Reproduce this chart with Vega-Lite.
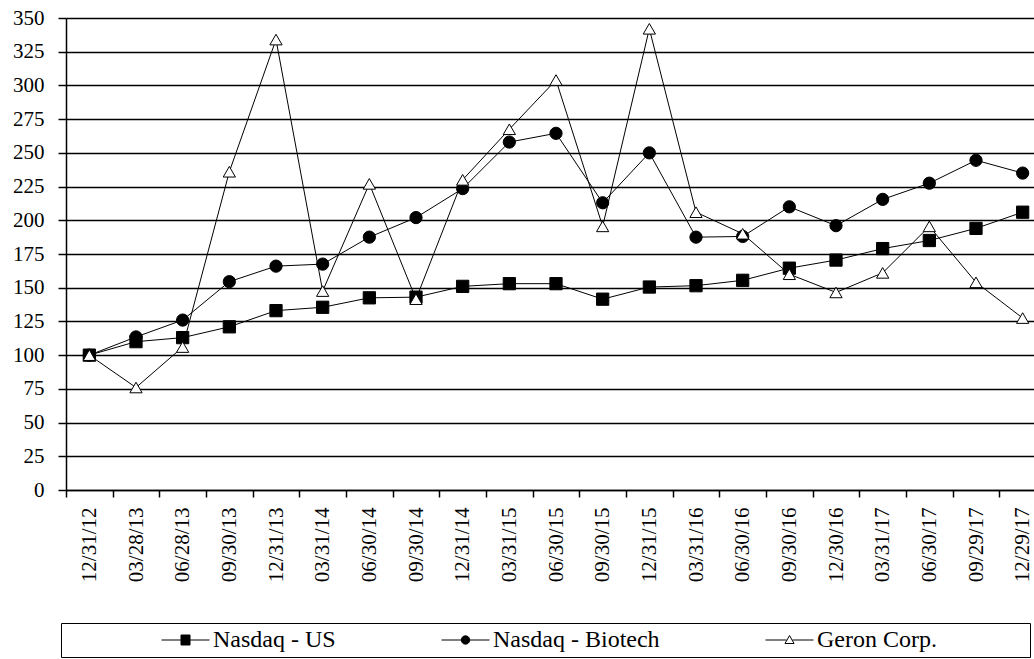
{
  "$schema": "https://vega.github.io/schema/vega-lite/v6.json",
  "width": 968,
  "height": 472,
  "autosize": {"type": "none"},
  "padding": {"left": 66, "top": 18, "right": 0, "bottom": 169},
  "background": "white",
  "config": {
    "view": {"stroke": null},
    "font": "Liberation Serif",
    "axis": {"labelFont": "Liberation Serif", "labelColor": "black", "domainColor": "black", "tickColor": "black", "title": null},
    "legend": {"labelFont": "Liberation Serif"}
  },
  "data": {
    "values": [
      {"date": "12/31/12", "series": "Nasdaq - US", "value": 100},
      {"date": "03/28/13", "series": "Nasdaq - US", "value": 110},
      {"date": "06/28/13", "series": "Nasdaq - US", "value": 113},
      {"date": "09/30/13", "series": "Nasdaq - US", "value": 121},
      {"date": "12/31/13", "series": "Nasdaq - US", "value": 133},
      {"date": "03/31/14", "series": "Nasdaq - US", "value": 135.5},
      {"date": "06/30/14", "series": "Nasdaq - US", "value": 142.5},
      {"date": "09/30/14", "series": "Nasdaq - US", "value": 143},
      {"date": "12/31/14", "series": "Nasdaq - US", "value": 151},
      {"date": "03/31/15", "series": "Nasdaq - US", "value": 153},
      {"date": "06/30/15", "series": "Nasdaq - US", "value": 153},
      {"date": "09/30/15", "series": "Nasdaq - US", "value": 141.5},
      {"date": "12/31/15", "series": "Nasdaq - US", "value": 150.5},
      {"date": "03/31/16", "series": "Nasdaq - US", "value": 151.5},
      {"date": "06/30/16", "series": "Nasdaq - US", "value": 155.5},
      {"date": "09/30/16", "series": "Nasdaq - US", "value": 164.5},
      {"date": "12/30/16", "series": "Nasdaq - US", "value": 170.5},
      {"date": "03/31/17", "series": "Nasdaq - US", "value": 179},
      {"date": "06/30/17", "series": "Nasdaq - US", "value": 185},
      {"date": "09/29/17", "series": "Nasdaq - US", "value": 194},
      {"date": "12/29/17", "series": "Nasdaq - US", "value": 206},
      {"date": "12/31/12", "series": "Nasdaq - Biotech", "value": 100},
      {"date": "03/28/13", "series": "Nasdaq - Biotech", "value": 113.5},
      {"date": "06/28/13", "series": "Nasdaq - Biotech", "value": 126},
      {"date": "09/30/13", "series": "Nasdaq - Biotech", "value": 154.5},
      {"date": "12/31/13", "series": "Nasdaq - Biotech", "value": 166},
      {"date": "03/31/14", "series": "Nasdaq - Biotech", "value": 167.5},
      {"date": "06/30/14", "series": "Nasdaq - Biotech", "value": 187.5},
      {"date": "09/30/14", "series": "Nasdaq - Biotech", "value": 202},
      {"date": "12/31/14", "series": "Nasdaq - Biotech", "value": 223.5},
      {"date": "03/31/15", "series": "Nasdaq - Biotech", "value": 258},
      {"date": "06/30/15", "series": "Nasdaq - Biotech", "value": 264.5},
      {"date": "09/30/15", "series": "Nasdaq - Biotech", "value": 213},
      {"date": "12/31/15", "series": "Nasdaq - Biotech", "value": 250},
      {"date": "03/31/16", "series": "Nasdaq - Biotech", "value": 187.5},
      {"date": "06/30/16", "series": "Nasdaq - Biotech", "value": 188},
      {"date": "09/30/16", "series": "Nasdaq - Biotech", "value": 210},
      {"date": "12/30/16", "series": "Nasdaq - Biotech", "value": 196},
      {"date": "03/31/17", "series": "Nasdaq - Biotech", "value": 215.5},
      {"date": "06/30/17", "series": "Nasdaq - Biotech", "value": 227.5},
      {"date": "09/29/17", "series": "Nasdaq - Biotech", "value": 244.5},
      {"date": "12/29/17", "series": "Nasdaq - Biotech", "value": 235},
      {"date": "12/31/12", "series": "Geron Corp.", "value": 100},
      {"date": "03/28/13", "series": "Geron Corp.", "value": 76},
      {"date": "06/28/13", "series": "Geron Corp.", "value": 106},
      {"date": "09/30/13", "series": "Geron Corp.", "value": 236},
      {"date": "12/31/13", "series": "Geron Corp.", "value": 334},
      {"date": "03/31/14", "series": "Geron Corp.", "value": 147.5},
      {"date": "06/30/14", "series": "Geron Corp.", "value": 227},
      {"date": "09/30/14", "series": "Geron Corp.", "value": 141.5},
      {"date": "12/31/14", "series": "Geron Corp.", "value": 230},
      {"date": "03/31/15", "series": "Geron Corp.", "value": 267.5},
      {"date": "06/30/15", "series": "Geron Corp.", "value": 304},
      {"date": "09/30/15", "series": "Geron Corp.", "value": 195.5},
      {"date": "12/31/15", "series": "Geron Corp.", "value": 342},
      {"date": "03/31/16", "series": "Geron Corp.", "value": 206},
      {"date": "06/30/16", "series": "Geron Corp.", "value": 190},
      {"date": "09/30/16", "series": "Geron Corp.", "value": 160},
      {"date": "12/30/16", "series": "Geron Corp.", "value": 146.5},
      {"date": "03/31/17", "series": "Geron Corp.", "value": 161},
      {"date": "06/30/17", "series": "Geron Corp.", "value": 195.5},
      {"date": "09/29/17", "series": "Geron Corp.", "value": 154},
      {"date": "12/29/17", "series": "Geron Corp.", "value": 127.5}
    ]
  },
  "encoding": {
    "x": {
      "field": "date",
      "type": "ordinal",
      "sort": null,
      "scale": {"type": "band", "paddingInner": 0, "paddingOuter": 0, "range": [0, 980]},
      "axis": {
        "labelAngle": -90,
        "labelFontSize": 21,
        "labelPadding": 10,
        "tickSize": 7,
        "tickWidth": 1.5,
        "domainWidth": 1.5,
        "tickBand": "extent",
        "grid": false
      }
    },
    "y": {
      "field": "value",
      "type": "quantitative",
      "scale": {"domain": [0, 350], "nice": false, "zero": true},
      "axis": {
        "values": [0, 25, 50, 75, 100, 125, 150, 175, 200, 225, 250, 275, 300, 325, 350],
        "labelFontSize": 21,
        "labelPadding": 14,
        "tickSize": 8,
        "tickWidth": 1.5,
        "domainWidth": 1.5,
        "grid": true,
        "gridColor": "black",
        "gridWidth": 1.5,
        "gridOpacity": 1
      }
    }
  },
  "layer": [
    {
      "mark": {"type": "line", "color": "black", "strokeWidth": 1},
      "encoding": {"detail": {"field": "series"}}
    },
    {
      "mark": {"type": "point", "filled": true, "stroke": "black", "strokeWidth": 1, "opacity": 1, "size": 150},
      "encoding": {
        "shape": {
          "field": "series",
          "type": "nominal",
          "scale": {"domain": ["Nasdaq - US", "Nasdaq - Biotech", "Geron Corp."], "range": ["square", "circle", "triangle-up"]},
          "legend": null
        },
        "fill": {
          "field": "series",
          "type": "nominal",
          "scale": {"domain": ["Nasdaq - US", "Nasdaq - Biotech", "Geron Corp."], "range": ["black", "black", "white"]},
          "legend": null
        }
      }
    },
    {
      "mark": {"type": "point", "filled": false, "strokeWidth": 1, "size": 0},
      "encoding": {
        "shape": {
          "field": "series",
          "type": "nominal",
          "scale": {
            "domain": ["Nasdaq - US", "Nasdaq - Biotech", "Geron Corp."],
            "range": [
              "M-2.4,0H2.4M-0.45,-0.5H0.45V0.5H-0.45Z",
              "M-2.4,0H2.4M0.42,0A0.42,0.42,0,1,1,-0.42,0A0.42,0.42,0,1,1,0.42,0Z",
              "M-2.4,0H-0.3M0.3,0H2.4M0,-0.45L0.45,0.35H-0.45Z"
            ]
          },
          "legend": {
            "orient": "none",
            "legendX": -5,
            "legendY": 605,
            "direction": "horizontal",
            "padding": 5,
            "strokeColor": "black",
            "fillColor": "white",
            "symbolSize": 400,
            "symbolOpacity": 1,
            "symbolStrokeWidth": 1,
            "symbolOffset": 107.5,
            "labelOffset": 15.5,
            "columnPadding": 10,
            "labelFontSize": 24,
            "labelColor": "black",
            "labelLimit": 400,
            "title": "\u00a0",
            "titleOrient": "right",
            "titlePadding": 88,
            "titleFontSize": 8
          }
        },
        "fill": {
          "field": "series",
          "type": "nominal",
          "scale": {"domain": ["Nasdaq - US", "Nasdaq - Biotech", "Geron Corp."], "range": ["black", "black", "white"]},
          "legend": {
            "orient": "none",
            "legendX": -5,
            "legendY": 605,
            "direction": "horizontal",
            "padding": 5,
            "strokeColor": "black",
            "fillColor": "white",
            "symbolSize": 400,
            "symbolOpacity": 1,
            "symbolStrokeWidth": 1,
            "symbolOffset": 107.5,
            "labelOffset": 15.5,
            "columnPadding": 10,
            "labelFontSize": 24,
            "labelColor": "black",
            "labelLimit": 400,
            "title": "\u00a0",
            "titleOrient": "right",
            "titlePadding": 88,
            "titleFontSize": 8
          }
        },
        "stroke": {
          "field": "series",
          "type": "nominal",
          "scale": {"domain": ["Nasdaq - US", "Nasdaq - Biotech", "Geron Corp."], "range": ["black", "black", "black"]},
          "legend": {
            "orient": "none",
            "legendX": -5,
            "legendY": 605,
            "direction": "horizontal",
            "padding": 5,
            "strokeColor": "black",
            "fillColor": "white",
            "symbolSize": 400,
            "symbolOpacity": 1,
            "symbolStrokeWidth": 1,
            "symbolOffset": 107.5,
            "labelOffset": 15.5,
            "columnPadding": 10,
            "labelFontSize": 24,
            "labelColor": "black",
            "labelLimit": 400,
            "title": "\u00a0",
            "titleOrient": "right",
            "titlePadding": 88,
            "titleFontSize": 8
          }
        }
      }
    }
  ],
  "resolve": {
    "scale": {"shape": "independent", "fill": "independent", "stroke": "independent"},
    "legend": {"shape": "independent", "fill": "independent", "stroke": "independent"}
  }
}
